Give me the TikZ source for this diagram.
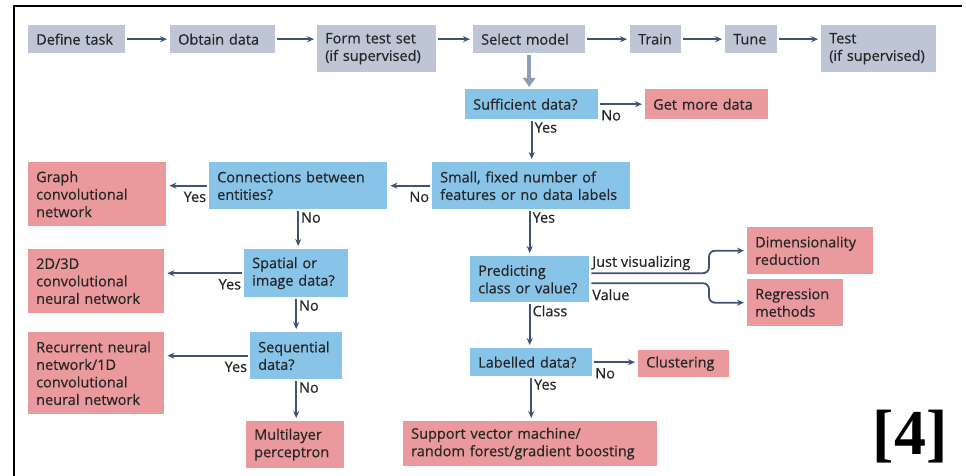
\documentclass[tikz,border=0pt]{standalone}
\usepackage{fontspec}
\setmainfont[FakeBold=0.4]{Open Sans}
\newfontfamily\refserif{Liberation Serif}
\usetikzlibrary{arrows.meta}
\definecolor{stagegray}{HTML}{BEC5D5}
\definecolor{askblue}{HTML}{88C3E8}
\definecolor{endpink}{HTML}{EA9A9D}
\definecolor{inkslate}{HTML}{3F5375}
\definecolor{paleslate}{HTML}{8F9DB8}
\definecolor{bodytext}{HTML}{262626}

\begin{document}
\begin{tikzpicture}[x=1pt,y=-1pt,
  every node/.style={font=\fontsize{14.5}{17.5}\selectfont,text=bodytext},
  cell/.style={anchor=north west,align=left,inner xsep=8pt,inner ysep=0pt},
  stage/.style={cell,fill=stagegray},
  ask/.style={cell,fill=askblue},
  outcome/.style={cell,fill=endpink},
  flow/.style={draw=inkslate,line width=1.8pt,-{Stealth[length=7pt,width=6pt]},shorten <=2pt,shorten >=3pt},
  pale/.style={draw=paleslate,line width=4pt,-{Triangle[length=9pt,width=12pt]},shorten <=2pt,shorten >=2pt},
  tag/.style={inner sep=2pt}]
\useasboundingbox (0,0) rectangle (966,476);
\draw[line width=2pt] (14,476) -- (14,6) -- (962,6);
% pipeline
\node[stage,text width=81pt,minimum height=28pt] (define) at (28,25) {Define task};
\node[stage,text width=89pt,minimum height=28pt] (obtain) at (170,25) {Obtain data};
\node[stage,text width=103pt,minimum height=47pt] (formtest) at (317,25) {Form test set\\(if supervised)};
\node[stage,text width=96pt,minimum height=28pt] (select) at (473,25) {Select model};
\node[stage,text width=35pt,minimum height=28pt] (train) at (630,25) {Train};
\node[stage,text width=36pt,minimum height=28pt] (tune) at (725,25) {Tune};
\node[stage,text width=99pt,minimum height=47pt] (test) at (821,25) {Test\\(if supervised)};
% questions
\node[ask,text width=117pt,minimum height=30pt] (sufficient) at (465,89) {Sufficient data?};
\node[ask,text width=182pt,minimum height=47pt] (small) at (432,162) {Small, fixed number of\\features or no data labels};
\node[ask,text width=162pt,minimum height=47pt] (connect) at (209,162) {Connections between\\entities?};
\node[ask,text width=88pt,minimum height=48pt] (spatial) at (244,249) {Spatial or\\image data?};
\node[ask,text width=76pt,minimum height=47pt] (sequential) at (250,332) {Sequential\\data?};
\node[ask,text width=103pt,minimum height=46pt] (predict) at (470,256) {Predicting\\class or value?};
\node[ask,text width=106pt,minimum height=28pt] (labelled) at (470,348) {Labelled data?};
% answers
\node[outcome,text width=107pt,minimum height=30pt] (getmore) at (645,89) {Get more data};
\node[outcome,text width=122pt,minimum height=64pt] (graph) at (28,162) {Graph\\convolutional\\network};
\node[outcome,text width=120pt,minimum height=64pt] (cnn) at (28,249) {2D/3D\\convolutional\\neural network};
\node[outcome,text width=120pt,minimum height=82pt] (rnn) at (28,332) {Recurrent neural\\network/1D\\convolutional\\neural network};
\node[outcome,text width=82pt,minimum height=47pt] (mlp) at (246,421) {Multilayer\\perceptron};
\node[outcome,text width=110pt,minimum height=47pt] (dimred) at (747,227) {Dimensionality\\reduction};
\node[outcome,text width=80pt,minimum height=47pt] (regress) at (747,279) {Regression\\methods};
\node[outcome,text width=75pt,minimum height=27pt] (cluster) at (638,350) {Clustering};
\node[outcome,text width=238pt,minimum height=45pt] (svm) at (403,421) {Support vector machine/\\random forest/gradient boosting};
\node[font=\refserif\bfseries\fontsize{64}{64}\selectfont,text=black] (cite) at (910,437) {[4]};
% connectors
\draw[flow] (define) -- (obtain);
\draw[flow] (obtain) -- (obtain -| formtest.west);
\draw[flow] (formtest.east |- select) -- (select);
\draw[flow] (select) -- (train);
\draw[flow] (train) -- (tune);
\draw[flow] (tune) -- (tune -| test.west);
\draw[pale] (select.south) -- (select.south |- sufficient.north);
\draw[flow] (sufficient) -- (getmore) node[pos=0,tag,below right,yshift=-3pt]{No};
\draw[flow] (sufficient.south) -- (sufficient.south |- small.north) node[pos=0,tag,below right]{Yes};
\draw[flow] (small) -- (connect) node[pos=0,tag,below left,yshift=-3pt]{No};
\draw[flow] (connect) -- (connect -| graph.east) node[pos=0,tag,below left,yshift=-3pt]{Yes};
\draw[flow] (connect.south) -- (connect.south |- spatial.north) node[pos=0,tag,below right]{No};
\draw[flow] (spatial) -- (spatial -| cnn.east) node[pos=0,tag,below left,yshift=-3pt]{Yes};
\draw[flow] (spatial.south) -- (spatial.south |- sequential.north) node[pos=0,tag,below right]{No};
\draw[flow] (sequential) -- (sequential -| rnn.east) node[pos=0,tag,below left,yshift=-3pt]{Yes};
\draw[flow] (sequential.south) -- (sequential.south |- mlp.north) node[pos=0,tag,below right]{No};
\draw[flow] (small.south -| predict.north) -- (predict.north) node[pos=0,tag,below right]{Yes};
\draw[flow,rounded corners=6pt] ([yshift=6pt]predict.east) node[tag,above right]{Just visualizing}
  -| ([xshift=-38pt]dimred.west) -- (dimred.west);
\draw[flow,rounded corners=6pt] ([yshift=-4pt]predict.east) node[tag,below right,yshift=-3pt]{Value}
  -| ([xshift=-38pt]regress.west) -- (regress.west);
\draw[flow] (predict.south) -- (predict.south |- labelled.north) node[pos=0,tag,below right]{Class};
\draw[flow] (labelled) -- (labelled -| cluster.west) node[pos=0,tag,below right,yshift=-3pt]{No};
\draw[flow] (labelled.south) -- (labelled.south |- svm.north) node[pos=0,tag,below right]{Yes};
\end{tikzpicture}
\end{document}
